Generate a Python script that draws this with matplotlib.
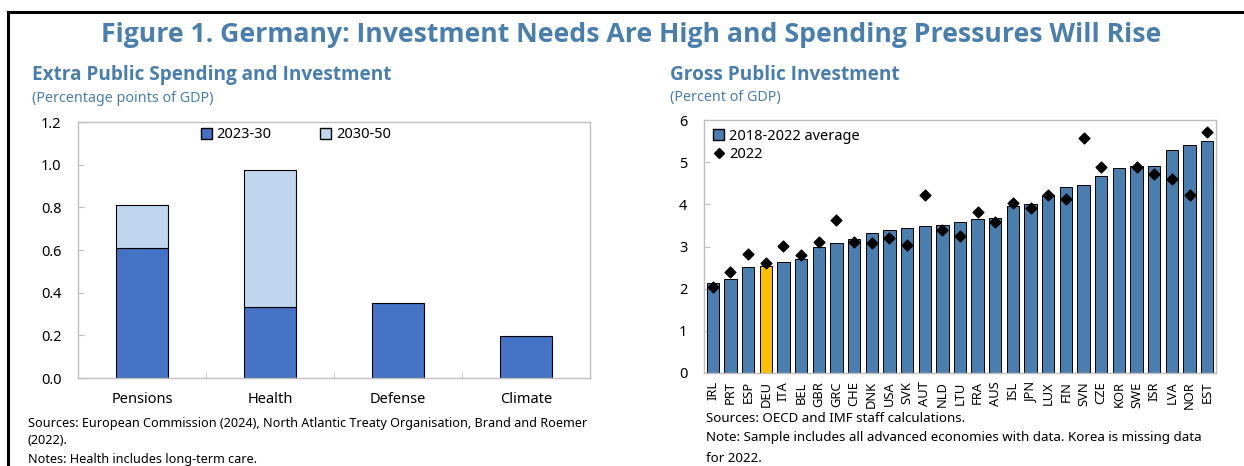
import matplotlib
matplotlib.use("Agg")
import matplotlib.pyplot as plt
import numpy as np
from matplotlib.lines import Line2D
from matplotlib.patches import Patch

plt.rcParams['font.family'] = ['Noto Sans', 'DejaVu Sans']
bold_font = ['Open Sans', 'Lato', 'DejaVu Sans']

# left panel data
categories = ['Pensions', 'Health', 'Defense', 'Climate']
spend_2023_30 = [0.61, 0.335, 0.35, 0.195]
spend_2030_50 = [0.20, 0.64, 0.0, 0.0]

# right panel data
countries = ['IRL', 'PRT', 'ESP', 'DEU', 'ITA', 'BEL', 'GBR', 'GRC', 'CHE', 'DNK',
             'USA', 'SVK', 'AUT', 'NLD', 'LTU', 'FRA', 'AUS', 'ISL', 'JPN', 'LUX',
             'FIN', 'SVN', 'CZE', 'KOR', 'SWE', 'ISR', 'LVA', 'NOR', 'EST']
avg_2018_22 = [2.14, 2.22, 2.52, 2.53, 2.63, 2.71, 2.98, 3.09, 3.17, 3.33,
               3.38, 3.44, 3.48, 3.50, 3.59, 3.66, 3.67, 3.96, 4.01, 4.21,
               4.42, 4.45, 4.67, 4.87, 4.92, 4.92, 5.30, 5.40, 5.50]
val_2022 = [2.03, 2.40, 2.83, 2.60, 3.02, 2.80, 3.10, 3.63, 3.10, 3.09,
            3.21, 3.04, 4.23, 3.38, 3.26, 3.81, 3.59, 4.04, 3.92, 4.23,
            4.12, 5.57, 4.88, np.nan, 4.88, 4.72, 4.61, 4.21, 5.71]

title_blue = '#4A7EAD'
dark_blue = '#4472C4'
light_blue = '#C0D6EE'
steel = '#4A7EAF'
gold = '#FFC000'
frame_gray = '#BFBFBF'

fig = plt.figure(figsize=(12.44, 4.66), dpi=100)

# figure frame (top and left edges visible)
fig.add_artist(Line2D([8 / 1244, 1.0], [1 - 12 / 466, 1 - 12 / 466], color='black', lw=2.2))
fig.add_artist(Line2D([8 / 1244, 8 / 1244], [0.0, 1 - 12 / 466], color='black', lw=2.2))

fig.text(0.507, 1 - 35 / 466, 'Figure 1. Germany: Investment Needs Are High and Spending Pressures Will Rise',
         ha='center', va='center', fontsize=19.2, fontweight='bold', color=title_blue, family=bold_font)

fig.text(32 / 1244, 1 - 75 / 466, 'Extra Public Spending and Investment', ha='left', va='center',
         fontsize=13.7, fontweight='bold', color=title_blue, family=bold_font)
fig.text(32 / 1244, 1 - 98 / 466, '(Percentage points of GDP)', ha='left', va='center',
         fontsize=10.3, color=title_blue)
fig.text(670 / 1244, 1 - 75 / 466, 'Gross Public Investment', ha='left', va='center',
         fontsize=13.7, fontweight='bold', color=title_blue, family=bold_font)
fig.text(670 / 1244, 1 - 98 / 466, '(Percent of GDP)', ha='left', va='center',
         fontsize=10.3, color=title_blue)

# ---- left panel
ax1 = fig.add_axes([78 / 1244, 1 - 378 / 466, 512 / 1244, 256 / 466])
x = np.arange(len(categories))
ax1.bar(x, spend_2023_30, width=0.4, color=dark_blue, edgecolor='black', linewidth=0.8, zorder=2)
ax1.bar(x[:2], spend_2030_50[:2], width=0.4, bottom=spend_2023_30[:2], color=light_blue,
        edgecolor='black', linewidth=0.8, zorder=2)
ax1.set_xlim(-0.5, 3.5)
ax1.set_ylim(0, 1.2)
ax1.set_yticks(np.arange(0, 1.21, 0.2))
ax1.set_yticklabels([f'{v:.1f}' for v in np.arange(0, 1.21, 0.2)])
ax1.set_xticks(x)
ax1.set_xticklabels(categories, fontsize=10.5)
ax1.set_xticks(np.arange(-0.5, 3.6, 1), minor=True)
ax1.tick_params(axis='x', which='major', length=0, pad=10)
ax1.tick_params(axis='x', which='minor', direction='in', length=4, color=frame_gray)
ax1.tick_params(axis='y', direction='in', length=4, color=frame_gray, labelsize=10.5, pad=12)
for s in ax1.spines.values():
    s.set_color(frame_gray)
    s.set_linewidth(1)
leg1 = ax1.legend(handles=[Patch(facecolor=dark_blue, edgecolor='black', label='2023-30'),
                           Patch(facecolor=light_blue, edgecolor='black', label='2030-50')],
                  loc='upper center', ncol=2, frameon=False, fontsize=10.5, columnspacing=3.3,
                  handlelength=0.8, handleheight=0.8, handletextpad=0.3, bbox_to_anchor=(0.425, 1.03))

fig.text(28 / 1244, 1 - 424 / 466,
         'Sources: European Commission (2024), North Atlantic Treaty Organisation, Brand and Roemer',
         ha='left', va='center', fontsize=9.1)
fig.text(28 / 1244, 1 - 441 / 466, '(2022).', ha='left', va='center', fontsize=9.1)
fig.text(28 / 1244, 1 - 460 / 466, 'Notes: Health includes long-term care.', ha='left', va='center', fontsize=9.1)

# ---- right panel
ax2 = fig.add_axes([704 / 1244, 1 - 373 / 466, 512 / 1244, 253 / 466])
xc = np.arange(len(countries))
colors = [gold if c == 'DEU' else steel for c in countries]
ax2.bar(xc, avg_2018_22, width=0.7, color=colors, edgecolor='black', linewidth=0.7, zorder=2,
        label='2018-2022 average')
ax2.scatter(xc, val_2022, marker='D', s=30, color='black', zorder=3, label='2022')
ax2.set_xlim(-0.5, len(countries) - 0.5)
ax2.set_ylim(0, 6)
ax2.set_yticks(range(0, 7))
ax2.set_xticks(xc)
ax2.set_xticklabels(countries, rotation=90, fontsize=9.3)
ax2.tick_params(axis='x', length=0, pad=6)
ax2.tick_params(axis='y', direction='in', length=4, color=frame_gray, labelsize=10.5, pad=12)
for s in ax2.spines.values():
    s.set_color(frame_gray)
    s.set_linewidth(1)
ax2.legend(handles=[Patch(facecolor=steel, edgecolor='black', label='2018-2022 average'),
                    Line2D([], [], marker='D', color='black', linestyle='none', markersize=5, label='2022')],
           loc='upper left', frameon=False, fontsize=10.5, handlelength=0.8, handleheight=0.8,
           handletextpad=0.3, labelspacing=0.25, borderaxespad=0.2)

fig.text(706 / 1244, 1 - 418 / 466, 'Sources: OECD and IMF staff calculations.',
         ha='left', va='center', fontsize=9.6)
fig.text(706 / 1244, 1 - 438 / 466,
         'Note: Sample includes all advanced economies with data. Korea is missing data',
         ha='left', va='center', fontsize=9.6)
fig.text(706 / 1244, 1 - 458 / 466, 'for 2022.', ha='left', va='center', fontsize=9.6)

fig.savefig('out.png', dpi=100)
